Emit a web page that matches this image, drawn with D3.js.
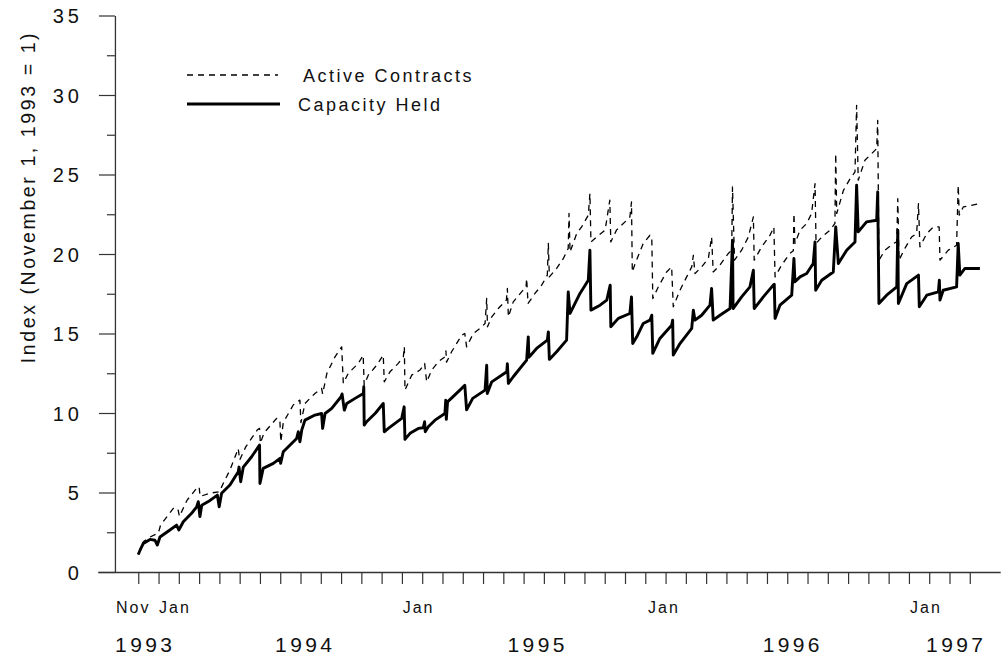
<!DOCTYPE html>
<html><head><meta charset="utf-8">
<script src="https://cdn.jsdelivr.net/npm/d3@7"></script>
<style>
body{margin:0;background:#fff}
text{font-family:"Liberation Sans",Arial,Helvetica,sans-serif;fill:#111}
</style>
</head><body>
<svg id="chart" width="1008" height="660"></svg>
<script>
// month index: 0 = November 1993
const capacityHeld = [
[0,1.1],[0.1,1.4],[0.25,1.8],[0.58,2.05],[0.82,2.0],[0.94,1.7],[1.07,2.2],[1.56,2.64],[1.89,2.95],[2.0,2.64],
[2.22,3.16],[2.63,3.69],[2.88,4.1],[2.96,4.42],[3.04,3.48],[3.13,4.2],[3.54,4.5],[3.9,4.84],[3.99,4.1],[4.11,4.95],
[4.52,5.47],[4.93,6.3],[4.97,6.6],[5.05,5.68],[5.18,6.6],[5.59,7.25],[5.92,7.87],[5.98,7.98],[6.0,5.57],[6.16,6.52],
[6.66,6.83],[6.99,7.15],[7.02,6.83],[7.15,7.56],[7.81,8.4],[7.89,8.82],[7.97,8.19],[8.06,8.92],[8.22,9.55],[8.71,9.87],
[9.04,9.97],[9.09,9.03],[9.21,9.97],[9.54,10.29],[10.0,11.02],[10.05,11.2],[10.16,10.18],[10.28,10.6],[10.69,10.92],[11.1,11.23],
[11.12,11.65],[11.14,9.24],[11.26,9.45],[11.7,10.0],[12.08,10.6],[12.13,8.82],[12.33,9.03],[12.99,9.66],[13.11,10.39],[13.15,8.34],
[13.4,8.72],[13.81,9.03],[14.05,9.07],[14.12,9.45],[14.15,8.82],[14.3,9.13],[14.63,9.55],[15.12,9.97],[15.16,10.8],[15.19,9.6],
[15.25,10.7],[15.95,11.55],[16.1,11.75],[16.19,10.2],[16.49,10.92],[17.1,11.44],[17.18,13.0],[17.21,11.23],[17.43,11.96],[18.17,12.59],
[18.2,13.1],[18.25,11.86],[18.49,12.28],[19.15,13.33],[19.23,14.79],[19.26,13.5],[19.64,14.06],[20.17,14.58],[20.22,15.1],[20.27,13.37],
[20.63,13.85],[21.12,14.58],[21.2,17.62],[21.29,16.26],[21.78,17.52],[22.19,18.35],[22.27,20.24],[22.32,16.47],[22.77,16.78],[23.1,17.1],
[23.27,18.04],[23.3,15.42],[23.67,15.95],[24.24,16.26],[24.32,17.3],[24.38,14.37],[24.58,14.79],[24.9,15.63],[25.23,15.84],[25.32,16.15],
[25.37,13.75],[25.72,14.69],[26.3,15.52],[26.35,15.84],[26.38,13.64],[26.71,14.37],[27.29,15.32],[27.37,16.47],[27.45,15.84],[27.78,16.15],
[28.19,16.78],[28.27,17.83],[28.35,15.84],[28.68,16.15],[29.18,16.57],[29.3,20.87],[29.33,16.57],[29.75,17.3],[30.16,17.93],[30.33,18.98],
[30.37,16.57],[30.82,17.3],[31.31,18.04],[31.36,18.1],[31.4,15.95],[31.64,16.78],[32.22,17.41],[32.33,19.72],[32.38,18.25],[32.63,18.56],
[32.96,18.77],[33.28,19.4],[33.37,20.76],[33.4,17.72],[33.7,18.35],[34.27,18.87],[34.39,21.7],[34.52,19.4],[34.93,20.24],[35.34,20.76],
[35.42,24.32],[35.5,21.39],[35.91,22.02],[36.41,22.12],[36.46,23.9],[36.52,16.89],[36.9,17.41],[37.4,17.93],[37.45,21.5],[37.48,16.89],
[37.89,18.14],[38.47,18.67],[38.51,16.68],[38.88,17.41],[39.45,17.62],[39.5,18.35],[39.53,17.1],[39.69,17.72],[40.35,17.93],[40.43,20.66],
[40.51,18.67],[40.76,19.09],[41.5,19.09]
];
const activeContracts = [
[0,1.1],[0.25,1.9],[0.58,2.2],[0.99,2.45],[1.1,2.95],[1.73,4.0],[1.95,4.0],[2.03,3.5],[2.4,4.5],[2.9,5.3],
[3.0,5.36],[3.05,4.75],[3.5,4.95],[4.0,5.05],[4.2,5.6],[4.52,6.41],[4.93,7.77],[5.0,7.04],[5.3,7.87],[5.88,8.95],
[5.98,9.03],[6.02,8.1],[6.2,8.75],[6.82,9.66],[6.98,9.6],[7.03,8.19],[7.15,9.4],[7.64,10.5],[7.97,10.81],[8.02,9.4],
[8.22,10.6],[8.71,11.23],[9.04,11.55],[9.09,11.2],[9.3,12.49],[9.7,13.53],[10.03,14.16],[10.11,11.86],[10.35,12.49],[10.85,13.12],
[11.09,13.64],[11.14,11.75],[11.34,12.38],[11.76,13.01],[12.08,13.64],[12.13,11.96],[12.41,12.59],[12.82,13.12],[13.07,13.53],[13.12,14.16],
[13.15,11.44],[13.48,12.38],[13.89,12.7],[14.12,13.12],[14.22,11.96],[14.47,12.7],[14.79,13.22],[15.12,13.53],[15.17,13.9],[15.2,13.2],
[15.45,13.85],[15.95,14.9],[16.1,15.0],[16.19,14.16],[16.52,15.0],[16.85,15.32],[17.1,15.63],[17.18,17.2],[17.22,15.42],[17.43,16.05],
[17.75,16.57],[18.15,17.1],[18.2,17.83],[18.25,16.05],[18.49,16.99],[18.9,17.62],[19.12,17.9],[19.15,18.46],[19.22,16.89],[19.56,17.52],
[19.89,18.04],[20.17,18.67],[20.22,20.66],[20.27,18.56],[20.63,19.09],[20.96,19.72],[21.2,20.35],[21.24,22.55],[21.29,20.13],[21.62,21.29],
[21.86,21.7],[22.19,22.44],[22.27,23.8],[22.32,20.76],[22.6,21.07],[23.02,21.5],[23.25,23.38],[23.3,20.76],[23.58,21.5],[24.08,22.12],
[24.24,22.33],[24.32,23.27],[24.36,18.87],[24.5,19.4],[24.9,20.66],[25.23,21.18],[25.32,21.07],[25.37,17.2],[25.64,17.93],[26.05,18.87],
[26.3,19.19],[26.38,16.68],[26.71,17.72],[27.04,18.56],[27.29,19.19],[27.37,19.92],[27.45,18.77],[27.78,19.19],[28.11,19.72],[28.27,21.07],
[28.35,18.87],[28.68,19.3],[29.09,20.03],[29.26,20.24],[29.3,24.22],[29.4,19.61],[29.75,20.24],[30.08,21.07],[30.33,22.33],[30.37,19.61],
[30.74,20.45],[31.15,21.18],[31.34,21.7],[31.4,18.56],[31.72,19.3],[32.13,20.03],[32.3,20.2],[32.33,22.55],[32.38,20.66],[32.63,21.5],
[32.96,21.92],[33.2,22.55],[33.37,24.43],[33.42,20.66],[33.7,21.07],[34.11,21.5],[34.35,21.92],[34.39,26.31],[34.44,22.55],[34.77,24.0],
[35.1,24.74],[35.34,25.16],[35.42,29.35],[35.5,24.64],[35.83,25.9],[36.16,26.31],[36.41,26.63],[36.46,28.41],[36.52,19.61],[36.82,20.24],
[37.23,20.66],[37.4,20.76],[37.45,23.48],[37.51,19.61],[37.8,20.35],[38.13,21.07],[38.38,21.29],[38.47,23.17],[38.54,20.45],[38.88,21.29],
[39.2,21.7],[39.49,21.7],[39.53,19.61],[39.94,20.24],[40.35,20.55],[40.43,24.32],[40.48,22.44],[40.68,22.96],[41.5,23.17]
];
const yMajorTicks = [0,5,10,15,20,25,30,35];
const yMinorTicks = [2.5,7.5,12.5,17.5,22.5,27.5,32.5];
const monthTicks = d3.range(0, 42);
const monthLabels = [["Nov",-0.3],["Jan",1.76],["Jan",13.77],["Jan",25.87],["Jan",38.79]];
const yearLabels = [["1993",0.26],["1994",8.15],["1995",19.61],["1996",32.19],["1997",40.25]];
const legendItems = [["Active Contracts","6,5",1.3],["Capacity Held",null,2.8]];
const yTitle = "Index (November 1, 1993 = 1)";

const svg = d3.select("#chart");
const x = d3.scaleLinear().domain([-2, 42.5]).range([97.7, 1000.2]);
const y = d3.scaleLinear().domain([0, 35]).range([572, 15.5]);
const axisColor = "#333";

// X axis
const gx = svg.append("g").attr("transform", `translate(0,${y(0)})`)
  .call(d3.axisBottom(x).tickValues(monthTicks).tickSize(12).tickSizeOuter(0).tickFormat(""));
gx.select(".domain").attr("stroke", axisColor).attr("stroke-width", 1.3);
gx.selectAll(".tick line").attr("stroke", axisColor).attr("stroke-width", 1.2);

// Y axis
const gyMinor = svg.append("g").attr("transform", `translate(${x(-1.15)},0)`)
  .call(d3.axisLeft(y).tickValues(yMinorTicks).tickSize(8).tickSizeOuter(0).tickFormat(""));
gyMinor.select(".domain").remove();
gyMinor.selectAll(".tick line").attr("stroke", axisColor).attr("stroke-width", 1.2);
const gy = svg.append("g").attr("transform", `translate(${x(-1.15)},0)`)
  .call(d3.axisLeft(y).tickValues(yMajorTicks).tickSize(16).tickSizeOuter(0).tickPadding(20));
gy.select(".domain").attr("stroke", axisColor).attr("stroke-width", 1.3);
gy.selectAll(".tick line").attr("stroke", axisColor).attr("stroke-width", 1.2);
gy.selectAll(".tick text").attr("font-size", 20).attr("letter-spacing", 4)
  .attr("font-family", "'Liberation Sans',Arial,sans-serif").attr("fill", "#111")
  .attr("dx", 4).attr("dy", "0.36em");

// Month & year labels
svg.append("g").selectAll("text").data(monthLabels).join("text")
  .attr("x", d => x(d[1]) + 1).attr("y", 613).attr("text-anchor", "middle")
  .attr("font-size", 16).attr("letter-spacing", 2).text(d => d[0]);
svg.append("g").selectAll("text").data(yearLabels).join("text")
  .attr("x", d => x(d[1]) + 1.7).attr("y", 652).attr("text-anchor", "middle")
  .attr("font-size", 21).attr("letter-spacing", 3.4).text(d => d[0]);

// Y title
svg.append("text").attr("transform", "translate(35,197) rotate(-90)")
  .attr("text-anchor", "middle").attr("font-size", 19.5).attr("letter-spacing", 2.6)
  .text(yTitle);

// Lines
const line = d3.line().x(d => x(d[0])).y(d => y(d[1]));
svg.append("path").datum(activeContracts).attr("d", line)
  .attr("fill", "none").attr("stroke", "#000").attr("stroke-width", 1.3)
  .attr("stroke-dasharray", "6,5").attr("stroke-linejoin", "round");
svg.append("path").datum(capacityHeld).attr("d", line)
  .attr("fill", "none").attr("stroke", "#000").attr("stroke-width", 2.9)
  .attr("stroke-linejoin", "round");

// Legend
const lg = svg.append("g").selectAll("g").data(legendItems).join("g")
  .attr("transform", (d, i) => `translate(187,${75 + i * 29})`);
lg.append("line").attr("x1", 0).attr("x2", (d, i) => i ? 93 : 91).attr("y1", 0).attr("y2", 0)
  .attr("stroke", "#000").attr("stroke-width", d => d[2])
  .attr("stroke-dasharray", d => d[1]);
lg.append("text").attr("x", (d, i) => i ? 111 : 116).attr("y", 7)
  .attr("font-size", 18).attr("letter-spacing", 2.5).text(d => d[0]);
</script>
</body></html>
